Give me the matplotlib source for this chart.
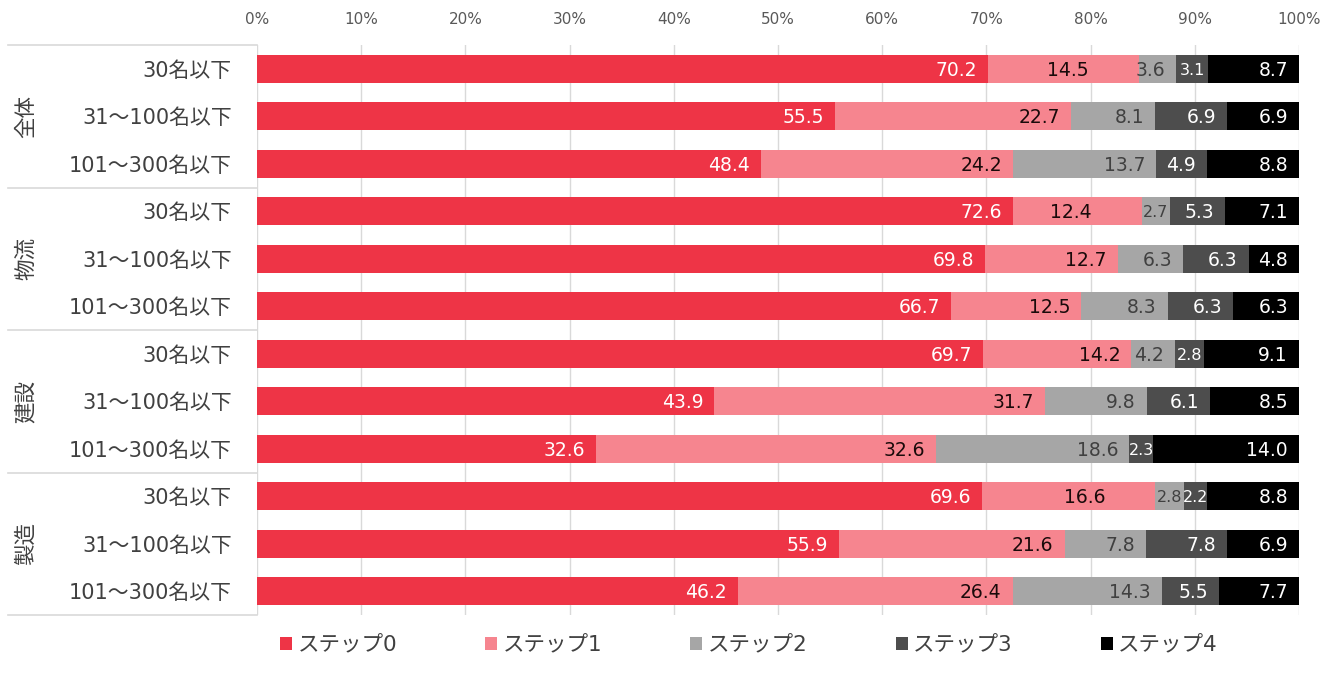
import matplotlib
matplotlib.use("Agg")
import matplotlib.pyplot as plt
import matplotlib.transforms as mtransforms
from matplotlib.patches import Patch
import numpy as np

plt.rcParams['font.family'] = ['Noto Sans CJK JP', 'DejaVu Sans']
NUMFONT = ['DejaVu Sans', 'Noto Sans CJK JP']

groups = ["全体", "物流", "建設", "製造"]
sizes = ["30名以下", "31～100名以下", "101～300名以下"]
series_names = ["ステップ0", "ステップ1", "ステップ2", "ステップ3", "ステップ4"]

step0 = [70.2, 55.5, 48.4, 72.6, 69.8, 66.7, 69.7, 43.9, 32.6, 69.6, 55.9, 46.2]
step1 = [14.5, 22.7, 24.2, 12.4, 12.7, 12.5, 14.2, 31.7, 32.6, 16.6, 21.6, 26.4]
step2 = [3.6, 8.1, 13.7, 2.7, 6.3, 8.3, 4.2, 9.8, 18.6, 2.8, 7.8, 14.3]
step3 = [3.1, 6.9, 4.9, 5.3, 6.3, 6.3, 2.8, 6.1, 2.3, 2.2, 7.8, 5.5]
step4 = [8.7, 6.9, 8.8, 7.1, 4.8, 6.3, 9.1, 8.5, 14.0, 8.8, 6.9, 7.7]

colors = ["#EE3446", "#F6858F", "#A6A6A6", "#4D4D4D", "#000000"]
label_colors = ["white", "#1a0a0a", "#404040", "white", "white"]

data = np.array([step0, step1, step2, step3, step4])
totals = data.sum(axis=0)
norm = data / totals * 100

fig = plt.figure(figsize=(13.42, 6.92), dpi=100)
W, H = 1342, 692
ax = fig.add_axes([257 / W, 1 - 615 / H, (1299 - 257) / W, (615 - 45) / H])

n = len(step0)
y = np.arange(n)
left = np.zeros(n)
for i in range(5):
    ax.barh(y, norm[i], left=left, height=0.59, color=colors[i], zorder=2,
            label=series_names[i])
    for j in range(n):
        w = norm[i][j]
        txt = f"{data[i][j]:.1f}"
        fs = 13.5
        if w < 3.2:
            xy, off, ha = (left[j] + w / 2, y[j]), (0, -1), "center"
            fs = 11.5
        else:
            pad = 8
            if i == 1 and data[2][j] < 4:
                pad = 36
            xy, off, ha = (left[j] + w, y[j]), (-pad, -1), "right"
        ax.annotate(txt, xy=xy, xytext=off, textcoords="offset points", ha=ha,
                    va="center", fontsize=fs, color=label_colors[i], zorder=3,
                    family=NUMFONT)
    left += norm[i]

ax.set_xlim(0, 100)
ax.set_ylim(n - 0.5, -0.5)
ax.set_xticks(np.arange(0, 101, 10))
ax.set_xticklabels([f"{v}%" for v in range(0, 101, 10)], family=NUMFONT)
ax.xaxis.tick_top()
ax.tick_params(axis='x', length=0, pad=13, labelsize=11, labelcolor="#595959")
ax.tick_params(axis='y', length=0, pad=18, labelcolor="#404040")
ax.set_yticks(y)
ax.set_yticklabels(sizes * len(groups), family=NUMFONT, fontsize=15)
ax.grid(axis='x', color="#D9D9D9", linewidth=1, zorder=0)
for s in ax.spines.values():
    s.set_visible(False)

trans = mtransforms.blended_transform_factory(ax.transAxes, ax.transData)
x0 = (8 - 257) / (1299 - 257)
for b in [-0.5, 2.5, 5.5, 8.5, 11.5]:
    ax.plot([x0, 0], [b, b], transform=trans, color="#D9D9D9", lw=1.2, clip_on=False)
xg = (26 - 257) / (1299 - 257)
for gi, g in enumerate(groups):
    ax.text(xg, gi * 3 + 1, g, transform=trans, rotation=90, ha="center", va="center",
            fontsize=15.5, color="#404040")

handles = [Patch(facecolor=c) for c in colors]
leg = fig.legend(handles, series_names, loc="center", bbox_to_anchor=(749 / W, 1 - 645 / H),
                 ncol=5, frameon=False, fontsize=15.5, handlelength=0.55, handleheight=0.55,
                 handletextpad=0.25, columnspacing=4.1)
for t in leg.get_texts():
    t.set_color("#404040")
    t.set_family(NUMFONT)

fig.savefig("out.png", dpi=100)
